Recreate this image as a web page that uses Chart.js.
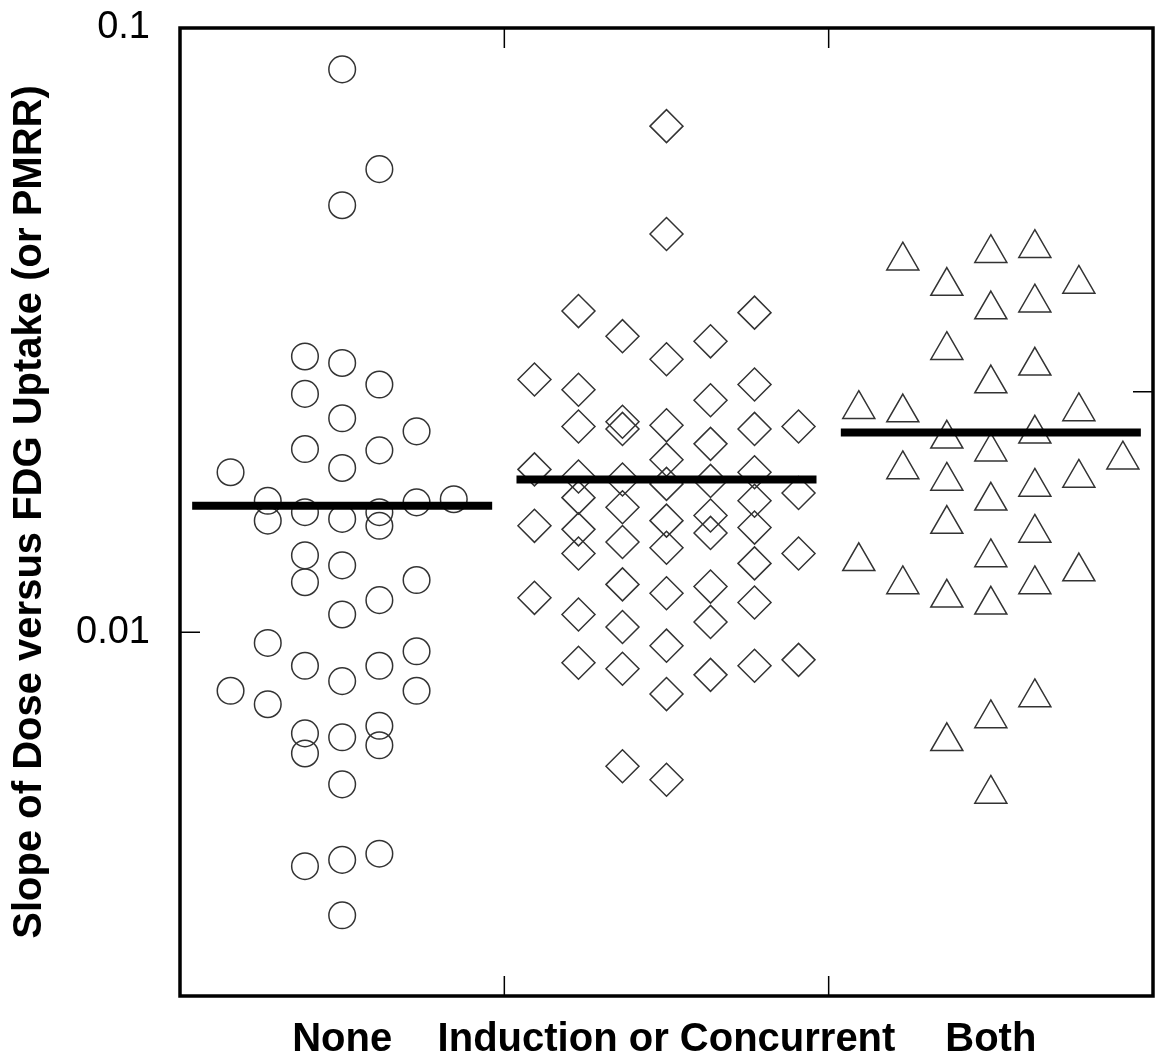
<!DOCTYPE html>
<html>
<head>
<meta charset="utf-8">
<script src="https://cdn.jsdelivr.net/npm/chart.js@4.4.0/dist/chart.umd.min.js"></script>
<style>
  html, body { margin: 0; padding: 0; background: #fff; overflow: hidden; }
  canvas { display: block; }
</style>
</head>
<body>
<canvas id="chart" width="1156" height="1060"></canvas>
<script>
// categories and tick values
const categories = ['None', 'Induction or Concurrent', 'Both'];
const yTicks = [0.01, 0.1];
const rightTicks = [0.025];
const xDividers = [1, 2];

// group "None" (circles): slot = column in the dot plot, val = slope
const noneSlot = [0,1,0,-1,0,1,-1,0,2,-1, 1,0,-3,-2,-1,0,1,1,-2,2, 3,-1,0,-1,2,1,0,-2,-1,1, 2,0,-3,2,-2,-1,0,1,1,-1, 0,-1,0,1,0];
const noneVal = [0.0854,0.0584,0.0509,0.0286,0.0279,0.0257,0.0248,0.0226,0.0215,0.0201,
                 0.0200,0.0187,0.0184,0.0165,0.0158,0.0154,0.0158,0.0150,0.0153,0.0164,
                 0.0166,0.0134,0.0129,0.0121,0.0122,0.0113,0.0107,0.0096,0.0088,0.0088,
                 0.0093,0.0083,0.0080,0.0080,0.0076,0.0068,0.0067,0.0070,0.0065,0.0063,
                 0.0056,0.0041,0.0042,0.0043,0.0034];

// group "Induction or Concurrent" (diamonds)
const inducSlot = [0,0,-2,-1,2,0,1,-3,-2,2, 1,-2,-1,-1,0,2,3,1,0,-3, -2,-1,0,1,2,-2,-1,0,1,1,
                   2,2,3,-3,-2,-2,-1,0,2,3, -1,0,1,1,2,-3,-2,-1,0,-2, -1,1,2,3,0,-1,0];
const inducVal = [0.0688,0.0456,0.0340,0.0309,0.0338,0.0283,0.0303,0.0262,0.0252,0.0257,
                  0.0242,0.0219,0.0223,0.0217,0.0220,0.0217,0.0219,0.0205,0.0193,0.0186,
                  0.0181,0.0179,0.0176,0.0178,0.0184,0.0167,0.0161,0.0153,0.0156,0.0146,
                  0.0165,0.0149,0.0170,0.0150,0.0148,0.0135,0.0141,0.0138,0.0130,0.0135,
                  0.0120,0.0116,0.0119,0.0104,0.0112,0.0114,0.0107,0.0102,0.0095,0.0089,
                  0.0087,0.0085,0.0088,0.0090,0.0079,0.0060,0.0057];

// group "Both" (triangles)
const bothSlot = [-2,0,1,-1,2,0,1,-1,1,0, -3,-2,2,-1,1,0,3,-2,-1,1, 2,0,-1,1,-3,0,-2,-1,0,1, 2,1,0,-1,0];
const bothVal = [0.0412,0.0424,0.0432,0.0374,0.0377,0.0342,0.0351,0.0293,0.0276,0.0258,
                 0.0234,0.0231,0.0232,0.0209,0.0213,0.0199,0.0193,0.0186,0.0178,0.0174,
                 0.0180,0.0165,0.0151,0.0146,0.0131,0.0133,0.0120,0.0114,0.0111,0.0120,
                 0.0126,0.0078,0.0072,0.0066,0.0054];

// group means (thick bars)
const groupMeans = [0.0162, 0.0179, 0.0214];

// layout / style constants
const slotStep = [0.1147, 0.1357, 0.1357];
const meanHalf = 0.4625;
const FONT = "'Liberation Sans', Arial, Helvetica, sans-serif";
Chart.defaults.font.family = FONT;
Chart.defaults.color = '#000';

function points(slots, vals, g) {
    return vals.map((v, i) => ({ x: g + 0.5 + slots[i] * slotStep[g], y: v }));
}

const markStyle = {
    type: 'scatter',
    showLine: false,
    borderColor: '#333',
    backgroundColor: 'rgba(0,0,0,0)',
    borderWidth: 1.5,
    order: 1
};

const datasets = [
    Object.assign({}, markStyle, { data: points(noneSlot, noneVal, 0), pointStyle: 'circle', pointRadius: 13.3 }),
    Object.assign({}, markStyle, { data: points(inducSlot, inducVal, 1), pointStyle: 'rectRot', pointRadius: 16.5 }),
    Object.assign({}, markStyle, { data: points(bothSlot, bothVal, 2), pointStyle: 'triangle', pointRadius: 18.5 })
];
groupMeans.forEach((m, g) => {
    datasets.push({
        type: 'line',
        data: [{ x: g + 0.5 - meanHalf, y: m }, { x: g + 0.5 + meanHalf, y: m }],
        borderColor: '#000',
        borderWidth: 8,
        borderCapStyle: 'butt',
        pointRadius: 0,
        order: 0
    });
});

// no extra room round the plot for tick labels
function noPad(s) {
    s.paddingTop = 0; s.paddingBottom = 0; s.paddingLeft = 0; s.paddingRight = 0;
}

// box round the plot and inward tick marks
const framePlugin = {
    id: 'frame',
    afterDraw(chart) {
        const ctx = chart.ctx;
        const a = chart.chartArea;
        const x = chart.scales.x, y = chart.scales.y;
        ctx.save();
        ctx.strokeStyle = '#000';
        ctx.lineWidth = 1.5;
        ctx.beginPath();
        xDividers.forEach(v => {
            const px = x.getPixelForValue(v);
            ctx.moveTo(px, a.top); ctx.lineTo(px, a.top + 20);
            ctx.moveTo(px, a.bottom); ctx.lineTo(px, a.bottom - 20);
        });
        yTicks.forEach(v => {
            if (v <= y.min || v >= y.max) return;
            const py = y.getPixelForValue(v);
            ctx.moveTo(a.left, py); ctx.lineTo(a.left + 20, py);
        });
        rightTicks.forEach(v => {
            const py = y.getPixelForValue(v);
            ctx.moveTo(a.right, py); ctx.lineTo(a.right - 20, py);
        });
        ctx.stroke();
        ctx.lineWidth = 3.5;
        ctx.strokeRect(a.left, a.top, a.right - a.left, a.bottom - a.top);
        ctx.restore();
    }
};

new Chart(document.getElementById('chart'), {
    data: { datasets: datasets },
    options: {
        responsive: false,
        animation: false,
        layout: { autoPadding: false, padding: { top: 28, right: 3, left: 0, bottom: 0 } },
        plugins: { legend: { display: false }, tooltip: { enabled: false } },
        scales: {
            x: {
                type: 'linear',
                min: 0,
                max: 3,
                grid: { display: false, drawTicks: false },
                border: { display: false },
                afterBuildTicks: axis => { axis.ticks = [0.5, 1.5, 2.5].map(v => ({ value: v })); },
                afterFit: s => { s.height = 64; noPad(s); },
                ticks: {
                    autoSkip: false,
                    maxRotation: 0,
                    minRotation: 0,
                    padding: 20,
                    font: { size: 40, weight: 'bold' },
                    callback: v => categories[Math.floor(v)]
                }
            },
            y: {
                type: 'logarithmic',
                min: 0.0025,
                max: 0.1,
                grid: { display: false, drawTicks: false },
                border: { display: false },
                afterBuildTicks: axis => { axis.ticks = yTicks.map(v => ({ value: v })); },
                afterFit: s => { s.width = 180; noPad(s); },
                ticks: {
                    padding: 30,
                    font: { size: 38 },
                    callback: v => String(v)
                },
                title: {
                    display: true,
                    text: 'Slope of Dose versus FDG Uptake (or PMRR)',
                    font: { size: 40, weight: 'bold' },
                    padding: { top: 6, bottom: 0 }
                }
            }
        }
    },
    plugins: [framePlugin]
});
</script>
</body>
</html>
